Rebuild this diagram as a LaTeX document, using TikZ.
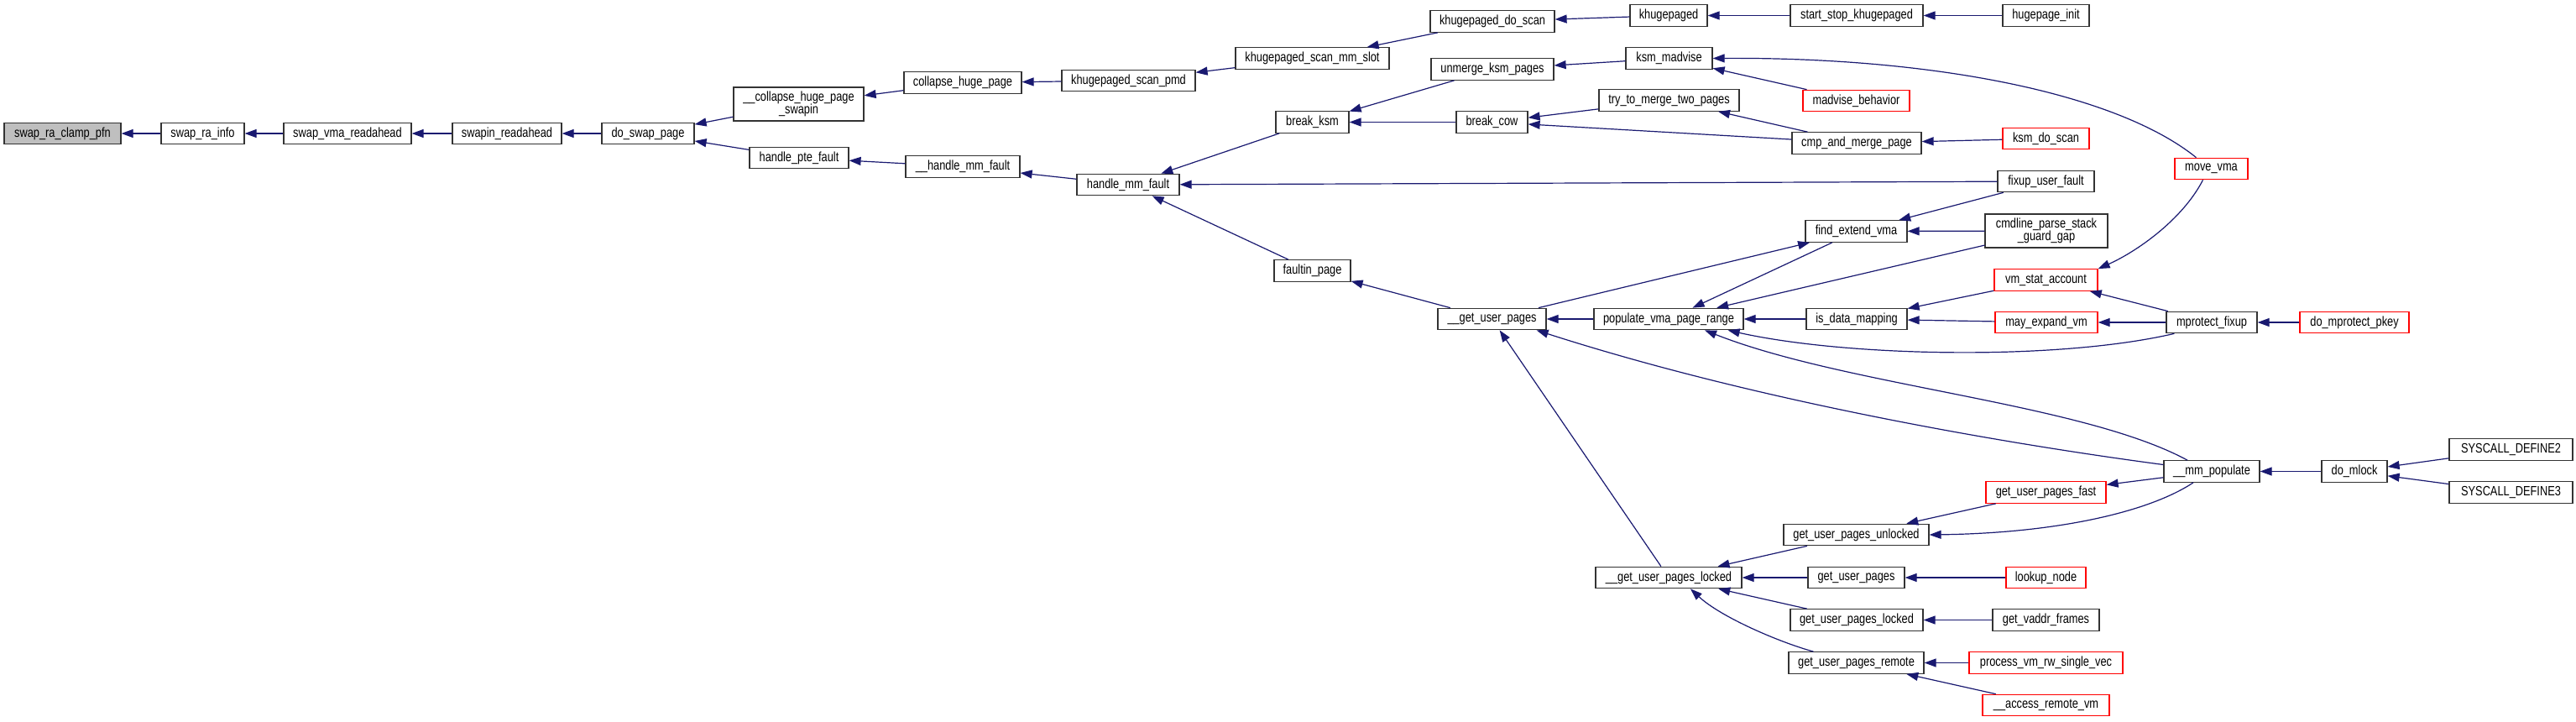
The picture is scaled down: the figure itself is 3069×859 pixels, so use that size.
\documentclass[tikz,border=0pt]{standalone}
\usepackage{fontspec}
\setmainfont[FakeStretch=0.8]{Liberation Sans}
\usetikzlibrary{arrows.meta}
\definecolor{edgeblue}{HTML}{191970}
\definecolor{nodered}{HTML}{FF0000}
\definecolor{rootgray}{HTML}{BFBFBF}
\begin{document}
\begin{tikzpicture}[x=1pt,y=-1pt,
 fn/.style={draw=black!80, line width=1.2pt, fill=white, minimum height=25.5pt, inner sep=0pt, font=\fontsize{16}{15}\selectfont, text=black},
 fntwo/.style={fn, minimum height=40pt, align=center},
 redfn/.style={fn, draw=nodered},
 rootfn/.style={fn, fill=rootgray},
 edge/.style={draw=edgeblue, line width=1.2pt, {Triangle[length=14pt,width=10pt]}-},
]
\useasboundingbox (0,0) rectangle (3069,859);

% column 0-4
\node[rootfn, minimum width=139pt] (clamp) at (74.5,159) {swap\_ra\_clamp\_pfn};
\node[fn, minimum width=99pt] (rainfo) at (241.5,159) {swap\_ra\_info};
\node[fn, minimum width=152pt] (vmara) at (414,159) {swap\_vma\_readahead};
\node[fn, minimum width=130pt] (swapinra) at (604,159) {swapin\_readahead};
\node[fn, minimum width=110pt] (doswap) at (772,159) {do\_swap\_page};
% column 5
\node[fntwo, minimum width=155pt] (colswapin) at (951.5,124) {\_\_collapse\_huge\_page\\\_swapin};
\node[fn, minimum width=118pt] (hpte) at (952,188) {handle\_pte\_fault};
% column 6
\node[fn, minimum width=140pt] (colhuge) at (1147,98.5) {collapse\_huge\_page};
\node[fn, minimum width=136pt] (hmmfu) at (1147,198.5) {\_\_handle\_mm\_fault};
% column 7
\node[fn, minimum width=159pt] (scanpmd) at (1344.5,96) {khugepaged\_scan\_pmd};
\node[fn, minimum width=122pt] (hmm) at (1344,220) {handle\_mm\_fault};
% column 8
\node[fn, minimum width=183pt] (mmslot) at (1563.5,69.5) {khugepaged\_scan\_mm\_slot};
\node[fn, minimum width=87pt] (breakksm) at (1563.5,145.5) {break\_ksm};
\node[fn, minimum width=91pt] (faultin) at (1563.5,322.5) {faultin\_page};
% column 9
\node[fn, minimum width=148pt] (doscan) at (1778,25.5) {khugepaged\_do\_scan};
\node[fn, minimum width=146pt] (unmerge) at (1778,82.5) {unmerge\_ksm\_pages};
\node[fn, minimum width=85pt] (breakcow) at (1777.5,145.5) {break\_cow};
\node[fn, minimum width=129pt] (gup) at (1777.5,380) {\_\_get\_user\_pages};
% column 10
\node[fn, minimum width=92pt] (khuge) at (1988,18.5) {khugepaged};
\node[fn, minimum width=103pt] (ksmmadv) at (1988.5,69.5) {ksm\_madvise};
\node[fn, minimum width=167pt] (trymerge) at (1988.5,119.5) {try\_to\_merge\_two\_pages};
\node[fn, minimum width=178pt] (popvma) at (1988,380) {populate\_vma\_page\_range};
\node[fn, minimum width=174pt] (gupl) at (1988,688) {\_\_get\_user\_pages\_locked};
% column 11
\node[fn, minimum width=158pt] (startstop) at (2212,18.5) {start\_stop\_khugepaged};
\node[redfn, minimum width=127pt] (madvb) at (2211.5,120) {madvise\_behavior};
\node[fn, minimum width=154pt] (cmpmerge) at (2212,170.5) {cmp\_and\_merge\_page};
\node[fn, minimum width=121pt] (fev) at (2211.5,275.5) {find\_extend\_vma};
\node[fn, minimum width=120pt] (isdata) at (2212,380) {is\_data\_mapping};
\node[fn, minimum width=173pt] (gupu) at (2211.5,637) {get\_user\_pages\_unlocked};
\node[fn, minimum width=115pt] (gupp) at (2211.5,688) {get\_user\_pages};
\node[fn, minimum width=158pt] (guplocked) at (2212,738.5) {get\_user\_pages\_locked};
\node[fn, minimum width=161pt] (guprem) at (2211.5,789.5) {get\_user\_pages\_remote};
% column 12
\node[fn, minimum width=103pt] (hpinit) at (2437.5,18.5) {hugepage\_init};
\node[redfn, minimum width=103pt] (ksmdoscan) at (2437.5,165) {ksm\_do\_scan};
\node[fn, minimum width=115pt] (fixup) at (2437.5,216) {fixup\_user\_fault};
\node[fntwo, minimum width=146pt] (cmdline) at (2438,275) {cmdline\_parse\_stack\\\_guard\_gap};
\node[redfn, minimum width=123pt] (vmstat) at (2437.5,333.5) {vm\_stat\_account};
\node[redfn, minimum width=122pt] (mayexp) at (2438,384) {may\_expand\_vm};
\node[redfn, minimum width=143pt] (gupfast) at (2437.5,586.5) {get\_user\_pages\_fast};
\node[redfn, minimum width=95pt] (lookup) at (2437.5,688) {lookup\_node};
\node[fn, minimum width=127pt] (getvaddr) at (2437.5,738.5) {get\_vaddr\_frames};
\node[redfn, minimum width=183pt] (procvm) at (2437.5,789.5) {process\_vm\_rw\_single\_vec};
\node[redfn, minimum width=151pt] (accrem) at (2437.5,840) {\_\_access\_remote\_vm};
% column 13
\node[redfn, minimum width=87pt] (movevma) at (2634.5,201) {move\_vma};
\node[fn, minimum width=108pt] (mprot) at (2635,384) {mprotect\_fixup};
\node[fn, minimum width=114pt] (mmpop) at (2635,561.5) {\_\_mm\_populate};
% column 14
\node[redfn, minimum width=130pt] (dompk) at (2805,384) {do\_mprotect\_pkey};
\node[fn, minimum width=78pt] (domlock) at (2805,561.5) {do\_mlock};
% column 15
\node[fn, minimum width=147pt] (sdtwo) at (2991.5,535.5) {SYSCALL\_DEFINE2};
\node[fn, minimum width=147pt] (sdthree) at (2991.5,586.5) {SYSCALL\_DEFINE3};

% edges (arrow at callee)
\draw[edge] (clamp) -- (rainfo);
\draw[edge] (rainfo) -- (vmara);
\draw[edge] (vmara) -- (swapinra);
\draw[edge] (swapinra) -- (doswap);
\draw[edge] (doswap) -- (colswapin);
\draw[edge] (doswap) -- (hpte);
\draw[edge] (colswapin) -- (colhuge);
\draw[edge] (colhuge) -- (scanpmd);
\draw[edge] (scanpmd) -- (mmslot);
\draw[edge] (mmslot) -- (doscan);
\draw[edge] (doscan) -- (khuge);
\draw[edge] (khuge) -- (startstop);
\draw[edge] (startstop) -- (hpinit);
\draw[edge] (hpte) -- (hmmfu);
\draw[edge] (hmmfu) -- (hmm);
\draw[edge] (hmm) -- (breakksm);
\draw[edge] (hmm) -- (fixup);
\draw[edge] (hmm) -- (faultin);
\draw[edge] (breakksm) -- (unmerge);
\draw[edge] (breakksm) -- (breakcow);
\draw[edge] (unmerge) -- (ksmmadv);
\draw[edge] (ksmmadv.east) .. controls (2300,68) and (2520,110) .. ([xshift=-18pt]movevma.north);
\draw[edge] (ksmmadv) -- (madvb);
\draw[edge] (breakcow) -- (trymerge);
\draw[edge] (breakcow) -- (cmpmerge);
\draw[edge] (trymerge) -- (cmpmerge);
\draw[edge] (cmpmerge) -- (ksmdoscan);
\draw[edge] (faultin) -- (gup);
\draw[edge] (fev) -- (gup);
\draw[edge] (fev) -- (fixup);
\draw[edge] (fev) -- (cmdline);
\draw[edge] (popvma) -- (fev);
\draw[edge] (popvma) -- (cmdline);
\draw[edge] (gup) -- (popvma);
\draw[edge] (popvma) -- (isdata);
\draw[edge] (isdata) -- (vmstat);
\draw[edge] (isdata) -- (mayexp);
\draw[edge] (vmstat) -- (mprot);
\draw[edge] (mayexp) -- (mprot);
\draw[edge] ([xshift=-19pt]popvma.south east) .. controls (2200,425) and (2450,430) .. ([xshift=10pt]mprot.south west);
\draw[edge] (vmstat.north east) .. controls (2545,300) and (2600,262) .. ([xshift=-10pt]movevma.south);
\draw[edge] (mprot) -- (dompk);
\draw[edge] ([xshift=43pt]popvma.south) .. controls (2200,460) and (2480,480) .. ([xshift=-29pt]mmpop.north);
\draw[edge] ([xshift=-12pt]gup.south east) .. controls (2100,480) and (2400,530) .. ([yshift=8pt]mmpop.west);
\draw[edge] (gupfast) -- (mmpop);
\draw[edge] (gupu.east) .. controls (2450,635) and (2560,610) .. ([xshift=-22pt]mmpop.south);
\draw[edge] (mmpop) -- (domlock);
\draw[edge] (domlock) -- (sdtwo);
\draw[edge] (domlock) -- (sdthree);
\draw[edge] (gup) -- (gupl);
\draw[edge] (gupl) -- (gupu);
\draw[edge] (gupu) -- (gupfast);
\draw[edge] (gupl) -- (gupp);
\draw[edge] (gupp) -- (lookup);
\draw[edge] (gupl) -- (guplocked);
\draw[edge] (guplocked) -- (getvaddr);
\draw[edge] ([xshift=26pt]gupl.south) .. controls (2050,735) and (2120,765) .. ([xshift=-51pt]guprem.north);
\draw[edge] (guprem) -- (procvm);
\draw[edge] (guprem) -- (accrem);
\end{tikzpicture}
\end{document}
